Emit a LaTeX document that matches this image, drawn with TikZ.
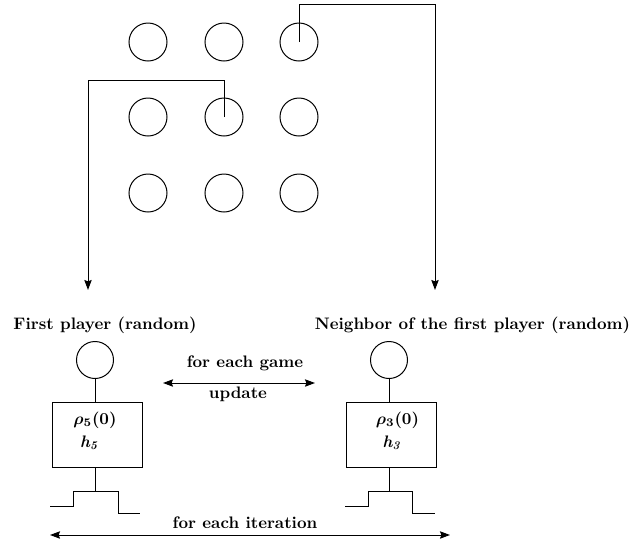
\documentclass[tikz,border=0pt]{standalone}
\usetikzlibrary{arrows.meta}

\tikzset{
    site/.style={draw,circle,minimum size=22.8pt,inner sep=0pt},
    player/.style={draw,circle,minimum size=22.2pt,inner sep=0pt},
    memory/.style={draw,rectangle,minimum width=54pt,minimum height=39pt,inner sep=0pt},
    lbl/.style={font=\bfseries,inner sep=1pt},
    var/.style={font=\bfseries\boldmath,inner sep=0pt},
    tip/.tip={Stealth[length=6pt,width=4.4pt,inset=0.8pt]},
}

\begin{document}
\begin{tikzpicture}[x=0.6pt,y=-0.6pt,line width=0.6pt]
    \useasboundingbox (0,0) rectangle (632,543);
    % Lattice
    \foreach \r/\y in {1/42,2/117,3/193} {
        \foreach \c/\x in {1/148,2/224,3/299} {
            \node[site] (g-\r-\c) at (\x,\y) {};
        }
    }
    % Picking the two players
    \coordinate (c1) at (88,80);
    \coordinate (t1) at (88,290);
    \coordinate (c2) at (435,4);
    \coordinate (t2) at (435,290);
    \draw[-tip] (g-2-2.center) |- (c1) -- (t1);
    \draw[-tip] (g-1-3.center) |- (c2) -- (t2);
    % First player
    \node[lbl] (first) at (105,325) {First player (random)};
    \node[player] (p1) at (95,360) {};
    \node[memory] (b1) at (97,434.5) {};
    \node[var] (rho1) at (95,420) {$\rho_5(0)$};
    \node[var] (h1) at (89,443) {\itshape h\textsubscript{5}};
    \draw (p1.south) -- (p1.south |- b1.north);
    \draw (p1.south |- b1.south) -- ++(0,24) coordinate (s1);
    \draw (s1) ++(-45,15) -- ++(23,0) -- ++(0,-15) -- ++(45,0) -- ++(0,22) -- ++(22,0);
    % Neighbor
    \node[lbl] (second) at (472.5,325) {Neighbor of the first player (random)};
    \node[player] (p2) at (389,360) {};
    \node[memory] (b2) at (391.5,434.5) {};
    \node[var] (rho2) at (397.5,420) {$\rho_3(0)$};
    \node[var] (h2) at (391.5,443) {\itshape h\textsubscript{3}};
    \draw (p2.south) -- (p2.south |- b2.north);
    \draw (p2.south |- b2.south) -- ++(0,24) coordinate (s2);
    \draw (s2) ++(-44,15) -- ++(23,0) -- ++(0,-15) -- ++(44,0) -- ++(0,22) -- ++(23,0);
    % Game loop
    \coordinate (ga) at (163,383);
    \coordinate (gb) at (315,383);
    \draw[tip-tip] (ga) -- (gb);
    \node[lbl] (game) at (245,363) {for each game};
    \node[lbl] (upd) at (238,394) {update};
    % Iteration loop
    \coordinate (ia) at (50,535);
    \coordinate (ib) at (450,535);
    \draw[tip-tip] (ia) -- (ib);
    \node[lbl] (iter) at (245,523) {for each iteration};
\end{tikzpicture}
\end{document}
